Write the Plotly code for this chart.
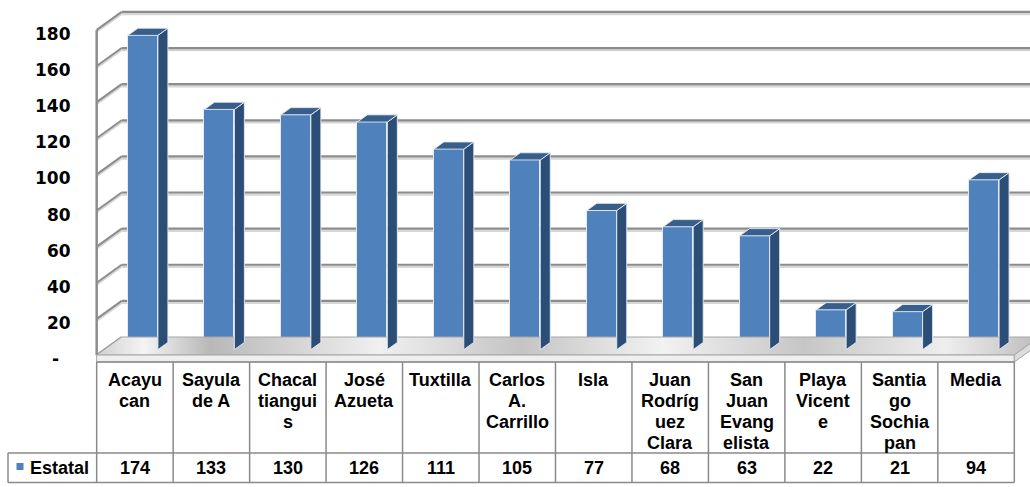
import plotly.graph_objects as go

# ---------------- data ----------------
categories = ["Acayu<br>can", "Sayula<br>de A", "Chacal<br>tiangui<br>s", "José<br>Azueta",
              "Tuxtilla", "Carlos<br>A.<br>Carrillo", "Isla", "Juan<br>Rodríg<br>uez<br>Clara",
              "San<br>Juan<br>Evang<br>elista", "Playa<br>Vicent<br>e", "Santia<br>go<br>Sochia<br>pan",
              "Media"]
values = [174, 133, 130, 126, 111, 105, 77, 68, 63, 22, 21, 94]
series_name = "Estatal"
ytick_vals = [0, 20, 40, 60, 80, 100, 120, 140, 160, 180]
ytick_text = ["-", "20", "40", "60", "80", "100", "120", "140", "160", "180"]

# ---------------- geometry ----------------
W, H = 1030, 487
PXU_X, X0PX = 76.47, 134.9       # px per category, px of category 0 centre
PXU_Y, Y0PX = 1.806, 355.0       # px per unit, px of value 0 (front)
xr = [-X0PX / PXU_X, (W - X0PX) / PXU_X]
yr = [-(H - Y0PX) / PXU_Y, Y0PX / PXU_Y]
DX, DY = 25 / PXU_X, 18 / PXU_Y  # full depth of the 3D box in data units
n = len(values)
XL, XR = -0.5, n - 0.5
YMAX = ytick_vals[-1]


def py(p):
    return 1 - p / H


FRONT = "#4F81BD"
SIDE = "#2C4D76"
TOP = "#385E8C"
GRID = "#8c8c8c"
GRID_L = "#d6d6d6"

fig = go.Figure()
shapes = []

# back wall gridlines
for v in ytick_vals[1:]:
    shapes.append(dict(type="line", xref="x", yref="y", x0=XL + DX, x1=XR + DX + 0.3,
                       y0=v + DY - 1.1, y1=v + DY - 1.1, line=dict(color=GRID_L, width=2.5), layer="below"))
    shapes.append(dict(type="line", xref="x", yref="y", x0=XL + DX, x1=XR + DX + 0.3,
                       y0=v + DY, y1=v + DY, line=dict(color=GRID, width=2.2), layer="below"))
# left wall diagonals
for v in ytick_vals:
    shapes.append(dict(type="line", xref="x", yref="y", x0=XL, x1=XL + DX, y0=v - 1.1, y1=v + DY - 1.1,
                       line=dict(color=GRID_L, width=2), layer="below"))
    shapes.append(dict(type="line", xref="x", yref="y", x0=XL, x1=XL + DX, y0=v, y1=v + DY,
                       line=dict(color=GRID, width=2), layer="below"))
# left front vertical edge
shapes.append(dict(type="line", xref="x", yref="y", x0=XL, x1=XL, y0=0, y1=YMAX,
                   line=dict(color=GRID, width=2.5), layer="below"))

# floor slab
SLAB = 7 / PXU_Y
fig.add_trace(go.Scatter(
    x=[XL, XR, XR + DX, XL + DX, XL], y=[0, 0, DY, DY, 0], mode="lines", fill="toself",
    line=dict(color="#a6a6a6", width=1),
    fillgradient=dict(type="horizontal", colorscale=[
        [0, "#d0d0d0"], [0.05, "#f4f4f4"], [0.12, "#b8b8b8"], [0.3, "#f0f0f0"], [0.45, "#c4c4c4"],
        [0.6, "#f2f2f2"], [0.75, "#c6c6c6"], [0.9, "#eeeeee"], [1, "#bdbdbd"]]),
    hoverinfo="skip", showlegend=False))
fig.add_trace(go.Scatter(
    x=[XL, XR, XR, XL, XL], y=[0, 0, -SLAB, -SLAB, 0], mode="lines", fill="toself",
    line=dict(color="#a6a6a6", width=1), fillcolor="#efefef", hoverinfo="skip", showlegend=False))
fig.add_trace(go.Scatter(
    x=[XR, XR + DX, XR + DX, XR, XR], y=[0, DY, DY - SLAB, -SLAB, 0], mode="lines", fill="toself",
    line=dict(color="#a6a6a6", width=1), fillcolor="#dcdcdc", hoverinfo="skip", showlegend=False))

# bars
BW, BOFF = 0.392, 0.105
F0, BD = 0.3, 0.4
by0 = F0 * DY
bdx, bdy = BD * DX, BD * DY
sx, sy, tx, ty = [], [], [], []
for i, v in enumerate(values):
    xl = i + BOFF - BW / 2
    xrr = xl + BW
    sx += [xrr, xrr + bdx, xrr + bdx, xrr, xrr, None]
    sy += [by0, by0 + bdy, v + by0 + bdy, v + by0, by0, None]
    tx += [xl, xrr, xrr + bdx, xl + bdx, xl, None]
    ty += [v + by0, v + by0, v + by0 + bdy, v + by0 + bdy, v + by0, None]
fig.add_trace(go.Scatter(x=sx, y=sy, mode="lines", fill="toself", fillcolor=SIDE,
                         line=dict(color="rgba(230,236,245,0.9)", width=1), hoverinfo="skip", showlegend=False))
fig.add_trace(go.Scatter(x=tx, y=ty, mode="lines", fill="toself", fillcolor=TOP,
                         line=dict(color="rgba(230,236,245,0.9)", width=1), hoverinfo="skip", showlegend=False))
fig.add_trace(go.Bar(x=list(range(n)), y=values, base=by0, width=BW, offset=BOFF - BW / 2,
                     marker=dict(color=FRONT, line=dict(color="rgba(235,240,248,0.9)", width=1)),
                     name=series_name, hoverinfo="skip", showlegend=False))

# y tick labels
annos = []
for v, t in zip(ytick_vals, ytick_text):
    txt = t if t != "-" else "-\u00a0\u00a0"
    annos.append(dict(xref="paper", yref="y", x=73 / W, y=v, xanchor="right", yanchor="middle",
                      yshift=-4, text=txt, showarrow=False,
                      font=dict(family="DejaVu Sans", size=17, color="#000000", weight="bold")))

# data table
TBL_TOP, ROW_MID, TBL_BOT = 362, 453, 482.5
TCOL = "#8a8a8a"
shapes.append(dict(type="line", xref="x", yref="paper", x0=XL, x1=XR, y0=py(TBL_TOP), y1=py(TBL_TOP),
                   line=dict(color=TCOL, width=1.5)))
for yy in (ROW_MID, TBL_BOT):
    shapes.append(dict(type="line", xref="paper", yref="paper", x0=8 / W, x1=(X0PX + PXU_X * XR) / W,
                       y0=py(yy), y1=py(yy), line=dict(color=TCOL, width=1.5)))
for k in range(n + 1):
    shapes.append(dict(type="line", xref="x", yref="paper", x0=XL + k, x1=XL + k, y0=py(TBL_TOP),
                       y1=py(TBL_BOT), line=dict(color=TCOL, width=1.5)))
shapes.append(dict(type="line", xref="paper", yref="paper", x0=8 / W, x1=8 / W, y0=py(ROW_MID),
                   y1=py(TBL_BOT), line=dict(color=TCOL, width=1.5)))
# legend key
shapes.append(dict(type="rect", xref="paper", yref="paper", x0=16.5 / W, x1=23.5 / W, y0=py(470), y1=py(463),
                   fillcolor=FRONT, line=dict(width=0)))

TFONT = dict(family="Liberation Sans, Arial", size=18, color="#000000", weight="bold")
for i, c in enumerate(categories):
    for k, line in enumerate(c.split("<br>")):
        annos.append(dict(xref="x", yref="paper", x=i, y=py(380 + 21 * k), xanchor="center",
                          yanchor="middle", text=line, showarrow=False, font=TFONT))
    annos.append(dict(xref="x", yref="paper", x=i, y=py(468), xanchor="center", yanchor="middle",
                      text=str(values[i]), showarrow=False, font=TFONT))
annos.append(dict(xref="paper", yref="paper", x=28 / W, y=py(468), xanchor="left", yanchor="middle",
                  text=series_name, showarrow=False, font=TFONT))

fig.update_layout(
    width=W, height=H, margin=dict(l=0, r=0, t=0, b=0),
    paper_bgcolor="white", plot_bgcolor="white",
    xaxis=dict(range=xr, visible=False, fixedrange=True),
    yaxis=dict(range=yr, visible=False, fixedrange=True),
    shapes=shapes, annotations=annos, showlegend=False, bargap=0,
)
fig.write_html("out.html", config={"displayModeBar": False},
               post_script="document.body.style.margin='0';document.body.style.overflow='hidden';")
